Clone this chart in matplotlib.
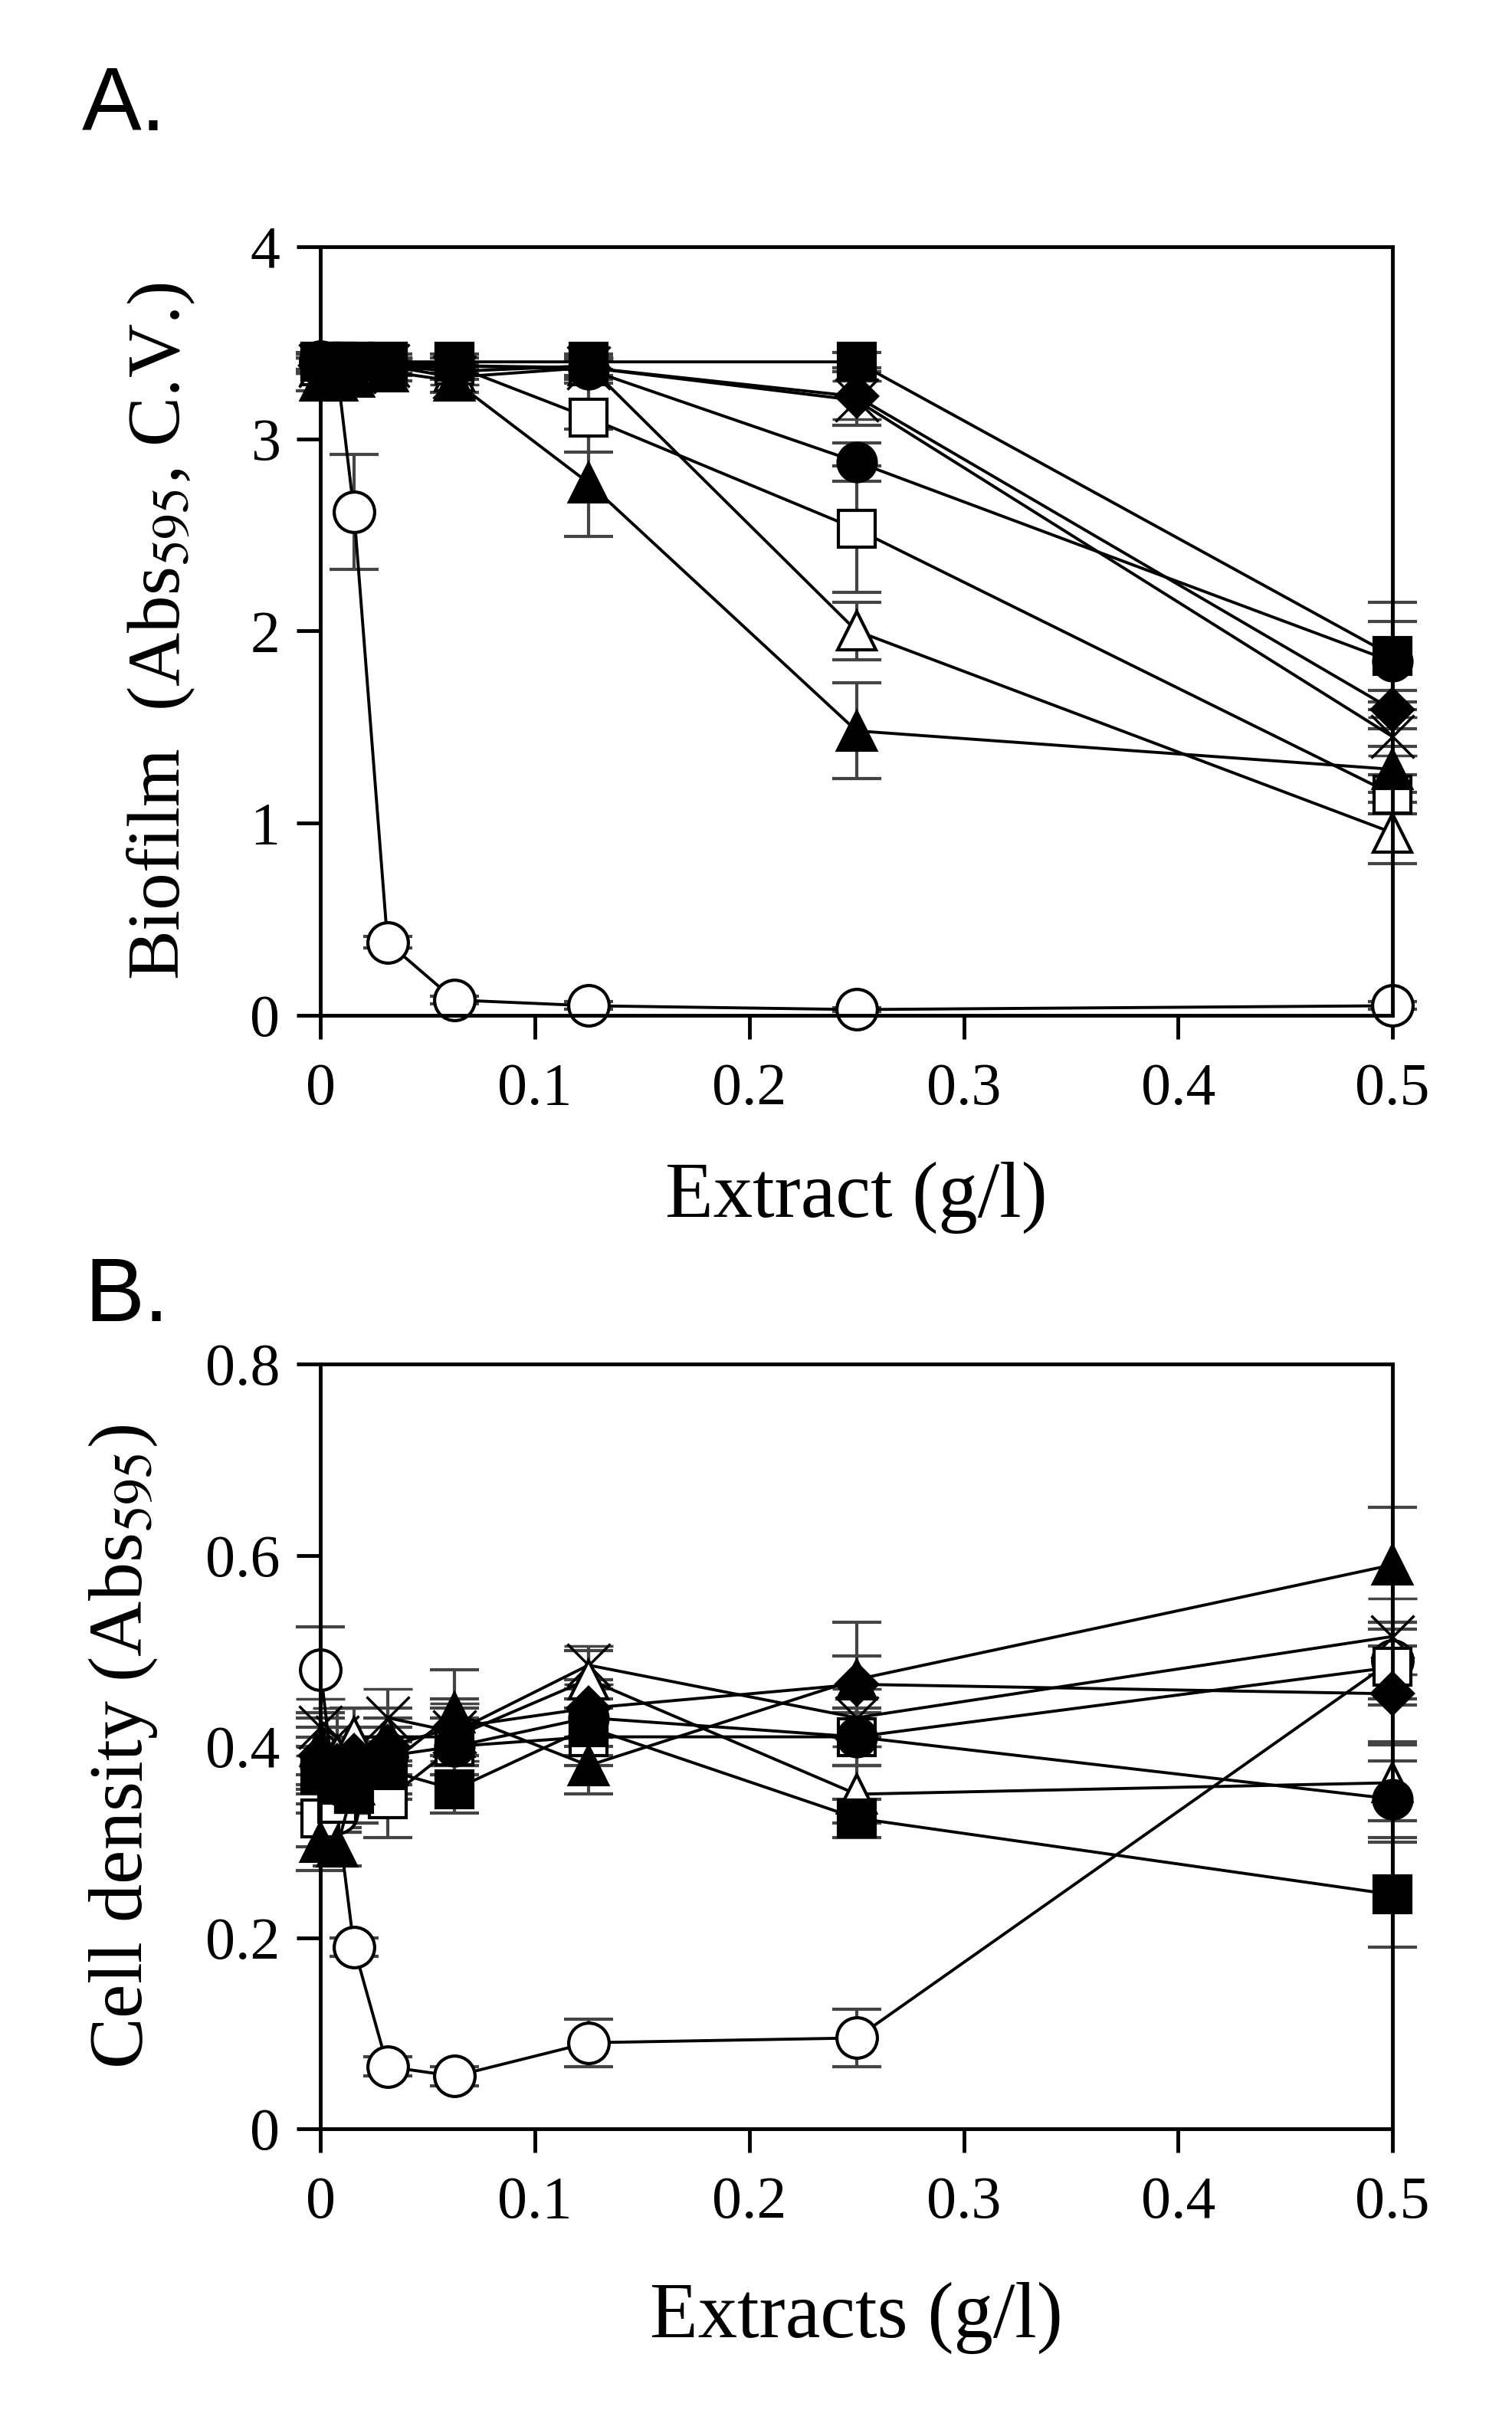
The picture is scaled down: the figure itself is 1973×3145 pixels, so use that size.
import numpy as np
import matplotlib
matplotlib.use("Agg")
import matplotlib.pyplot as plt
from matplotlib.ticker import FuncFormatter

plt.rcParams['font.family'] = ['Liberation Serif', 'DejaVu Serif']
plt.rcParams['mathtext.fontset'] = 'stix'

# extract concentrations (g/l)
conc = [0, 0.0078, 0.0156, 0.03125, 0.0625, 0.125, 0.25, 0.5]

# A. biofilm (Abs595, C.V.)
bio_sq_f = [3.40, 3.40, 3.40, 3.40, 3.40, 3.40, 3.40, 1.87]
bio_ci_f = [3.38, 3.38, 3.38, 3.38, 3.38, 3.36, 2.88, 1.84]
bio_di_f = [3.38, 3.38, 3.38, 3.37, 3.38, 3.37, 3.22, 1.59]
bio_tr_f = [3.30, 3.30, 3.32, 3.35, 3.30, 2.77, 1.48, 1.28]
bio_sq_o = [3.40, 3.40, 3.40, 3.40, 3.38, 3.11, 2.53, 1.15]
bio_tr_o = [3.38, 3.38, 3.38, 3.38, 3.35, 3.38, 2.00, 0.95]
bio_ci_o = [3.40, 3.35, 2.62, 0.38, 0.08, 0.05, 0.03, 0.05]
bio_x = [3.38, 3.36, 3.35, 3.38, 3.32, 3.37, 3.20, 1.45]

bio_sq_f_err = [0.04, 0.04, 0.04, 0.04, 0.04, 0.04, 0.05, 0.28]
bio_ci_f_err = [0.04, 0.04, 0.04, 0.04, 0.04, 0.05, 0.10, 0.21]
bio_di_f_err = [0.04, 0.04, 0.04, 0.04, 0.04, 0.05, 0.15, 0.10]
bio_tr_f_err = [0.05, 0.05, 0.05, 0.05, 0.06, 0.28, 0.25, 0.12]
bio_sq_o_err = [0.04, 0.04, 0.04, 0.04, 0.04, 0.18, 0.33, 0.10]
bio_tr_o_err = [0.04, 0.04, 0.04, 0.04, 0.04, 0.05, 0.15, 0.16]
bio_ci_o_err = [0.05, 0.05, 0.30, 0.03, 0.02, 0.02, 0.01, 0.02]
bio_x_err = [0.04, 0.04, 0.04, 0.04, 0.04, 0.05, 0.10, 0.10]

# B. cell density (Abs595)
cd_sq_f = [0.37, 0.36, 0.35, 0.375, 0.355, 0.42, 0.325, 0.245]
cd_ci_f = [0.38, 0.37, 0.37, 0.39, 0.40, 0.43, 0.41, 0.345]
cd_di_f = [0.39, 0.38, 0.39, 0.40, 0.42, 0.44, 0.465, 0.455]
cd_tr_f = [0.30, 0.295, 0.36, 0.38, 0.435, 0.38, 0.47, 0.59]
cd_sq_o = [0.325, 0.34, 0.35, 0.345, 0.40, 0.41, 0.41, 0.483]
cd_tr_o = [0.40, 0.39, 0.41, 0.41, 0.41, 0.47, 0.35, 0.362]
cd_ci_o = [0.48, 0.33, 0.19, 0.065, 0.055, 0.09, 0.095, 0.49]
cd_x = [0.42, 0.41, 0.36, 0.43, 0.415, 0.485, 0.43, 0.515]

cd_sq_f_err = [0.03, 0.03, 0.03, 0.03, 0.025, 0.03, 0.02, 0.055]
cd_ci_f_err = [0.03, 0.03, 0.03, 0.03, 0.03, 0.03, 0.03, 0.04]
cd_di_f_err = [0.03, 0.03, 0.03, 0.03, 0.03, 0.03, 0.03, 0.05]
cd_tr_f_err = [0.03, 0.02, 0.03, 0.03, 0.045, 0.03, 0.06, 0.06]
cd_sq_o_err = [0.03, 0.03, 0.03, 0.04, 0.03, 0.03, 0.03, 0.04]
cd_tr_o_err = [0.03, 0.03, 0.03, 0.03, 0.03, 0.03, 0.03, 0.04]
cd_ci_o_err = [0.045, 0.02, 0.01, 0.01, 0.01, 0.025, 0.03, 0.04]
cd_x_err = [0.03, 0.03, 0.03, 0.03, 0.03, 0.02, 0.03, 0.04]

# marker styles, drawn back to front
styles = [
    ("o", "white", 38),   # open circle
    ("x", "black", 40),   # cross
    ("^", "white", 36),   # open triangle
    ("s", "white", 35),   # open square
    ("^", "black", 36),   # filled triangle
    ("o", "black", 36),   # filled circle
    ("D", "black", 28),   # filled diamond
    ("s", "black", 35),   # filled square
]

bio_series = [(bio_ci_o, bio_ci_o_err), (bio_x, bio_x_err), (bio_tr_o, bio_tr_o_err),
              (bio_sq_o, bio_sq_o_err), (bio_tr_f, bio_tr_f_err), (bio_ci_f, bio_ci_f_err),
              (bio_di_f, bio_di_f_err), (bio_sq_f, bio_sq_f_err)]
cd_series = [(cd_ci_o, cd_ci_o_err), (cd_x, cd_x_err), (cd_tr_o, cd_tr_o_err),
             (cd_sq_o, cd_sq_o_err), (cd_tr_f, cd_tr_f_err), (cd_ci_f, cd_ci_f_err),
             (cd_di_f, cd_di_f_err), (cd_sq_f, cd_sq_f_err)]

fig = plt.figure(figsize=(19.73, 31.45), dpi=100)
axA = fig.add_axes([0.212, 0.5787, 0.709, 0.319])
axB = fig.add_axes([0.212, 0.1167, 0.709, 0.3173])


def draw_panel(ax, series):
    for (vals, errs), (mk, fc, ms) in zip(series, styles):
        mew = 2.5 if mk == "x" else 3
        _, caps, bars = ax.errorbar(conc, vals, yerr=errs, color="black", lw=2.8,
                                    marker=mk, ms=ms, mfc=fc, mec="black", mew=mew,
                                    ecolor="#444444", elinewidth=3, capsize=23, capthick=3,
                                    clip_on=False)
        for c in caps:
            c.set_clip_on(False)
        for b in bars:
            b.set_clip_on(False)
    ax.set_xlim(0, 0.5)
    ax.set_xticks([0, 0.1, 0.2, 0.3, 0.4, 0.5])
    ax.xaxis.set_major_formatter(FuncFormatter(lambda v, p: "0" if v == 0 else f"{v:g}"))
    ax.yaxis.set_major_formatter(FuncFormatter(lambda v, p: "0" if v == 0 else f"{v:g}"))
    ax.tick_params(direction="out", length=22, width=3.5, labelsize=56, top=False, right=False)
    ax.tick_params(axis="x", pad=22)
    ax.tick_params(axis="y", pad=16)
    for s in ax.spines.values():
        s.set_linewidth(3.5)


# panel A
draw_panel(axA, bio_series)
axA.set_ylim(0, 4)
axA.set_yticks([0, 1, 2, 3, 4])
axA.set_xlabel("Extract (g/l)", fontsize=74)
axA.set_ylabel(r"Biofilm  (Abs$_{595}$, C.V.)", fontsize=70)
axA.xaxis.set_label_coords(0.5, -0.19)
axA.yaxis.set_label_coords(-0.115, 0.5)

# panel B
draw_panel(axB, cd_series)
axB.set_ylim(0, 0.8)
axB.set_yticks([0, 0.2, 0.4, 0.6, 0.8])
axB.set_xlabel("Extracts (g/l)", fontsize=74)
axB.set_ylabel(r"Cell density (Abs$_{595}$)", fontsize=72)
axB.xaxis.set_label_coords(0.5, -0.2)
axB.yaxis.set_label_coords(-0.15, 0.5)

# panel letters
fig.text(0.054, 0.973, "A.", fontsize=84, family=["Liberation Sans", "DejaVu Sans"], va="top", ha="left")
fig.text(0.056, 0.479, "B.", fontsize=84, family=["Liberation Sans", "DejaVu Sans"], va="top", ha="left")

fig.savefig("out.png", dpi=100)
